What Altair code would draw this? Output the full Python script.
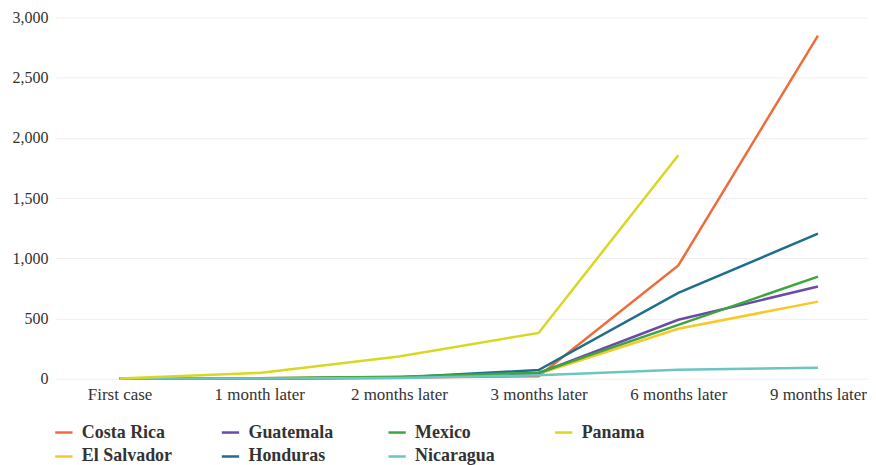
import altair as alt
import pandas as pd

periods = ["First case", "1 month later", "2 months later", "3 months later", "6 months later", "9 months later"]
countries = ["Costa Rica", "El Salvador", "Guatemala", "Honduras", "Mexico", "Nicaragua", "Panama"]
colors = ["#ee6c3a", "#f9c823", "#6a4ba6", "#1f6e8c", "#3da540", "#6cc5c0", "#d8d820"]

costa_rica = [1, 3, 10, 20, 940, 2850]
el_salvador = [1, 3, 12, 40, 414, 640]
guatemala = [1, 2, 8, 45, 489, 765]
honduras = [1, 2, 10, 72, 712, 1205]
mexico = [1, 4, 15, 50, 447, 848]
nicaragua = [1, 1, 5, 28, 75, 90]
panama = [1, 48, 185, 380, 1856, None]

series = [costa_rica, el_salvador, guatemala, honduras, mexico, nicaragua, panama]
rows = []
for c, vals in zip(countries, series):
    for p, v in zip(periods, vals):
        if v is not None:
            rows.append({"country": c, "period": p, "value": v})
df = pd.DataFrame(rows)

font = "Liberation Serif"

chart = alt.Chart(df).mark_line(strokeWidth=2.5).encode(
    x=alt.X("period:N", sort=periods, title=None,
            scale=alt.Scale(type="point", padding=0.407, align=0.56),
            axis=alt.Axis(labelAngle=0, domain=False, ticks=False, grid=False,
                          labelFont=font, labelFontSize=17, labelColor="#333",
                          labelPadding=8)),
    y=alt.Y("value:Q", title=None,
            scale=alt.Scale(domain=[0, 3000], nice=False),
            axis=alt.Axis(values=[0, 500, 1000, 1500, 2000, 2500, 3000], format=",.0f",
                          domain=False, ticks=False, gridColor="#eeeeee",
                          labelFont=font, labelFontSize=16, labelColor="#333",
                          labelPadding=8)),
    color=alt.Color("country:N", sort=countries,
                    scale=alt.Scale(domain=countries, range=colors),
                    legend=alt.Legend(title=None, orient="none", legendX=-2, legendY=406,
                                      columns=4, gridAlign="all", columnPadding=44, rowPadding=5,
                                      symbolType="stroke", symbolSize=300, symbolStrokeWidth=2.5,
                                      labelFont=font, labelFontSize=18, labelFontWeight="bold",
                                      labelColor="#333", labelOffset=8)),
).properties(
    width=814, height=362,
    autosize=alt.AutoSizeParams(type="none"),
    padding={"left": 48, "top": 9, "right": 0, "bottom": 86},
).configure_view(stroke=None)

chart.save("out.html", embed_options={"renderer": "svg", "actions": False})
